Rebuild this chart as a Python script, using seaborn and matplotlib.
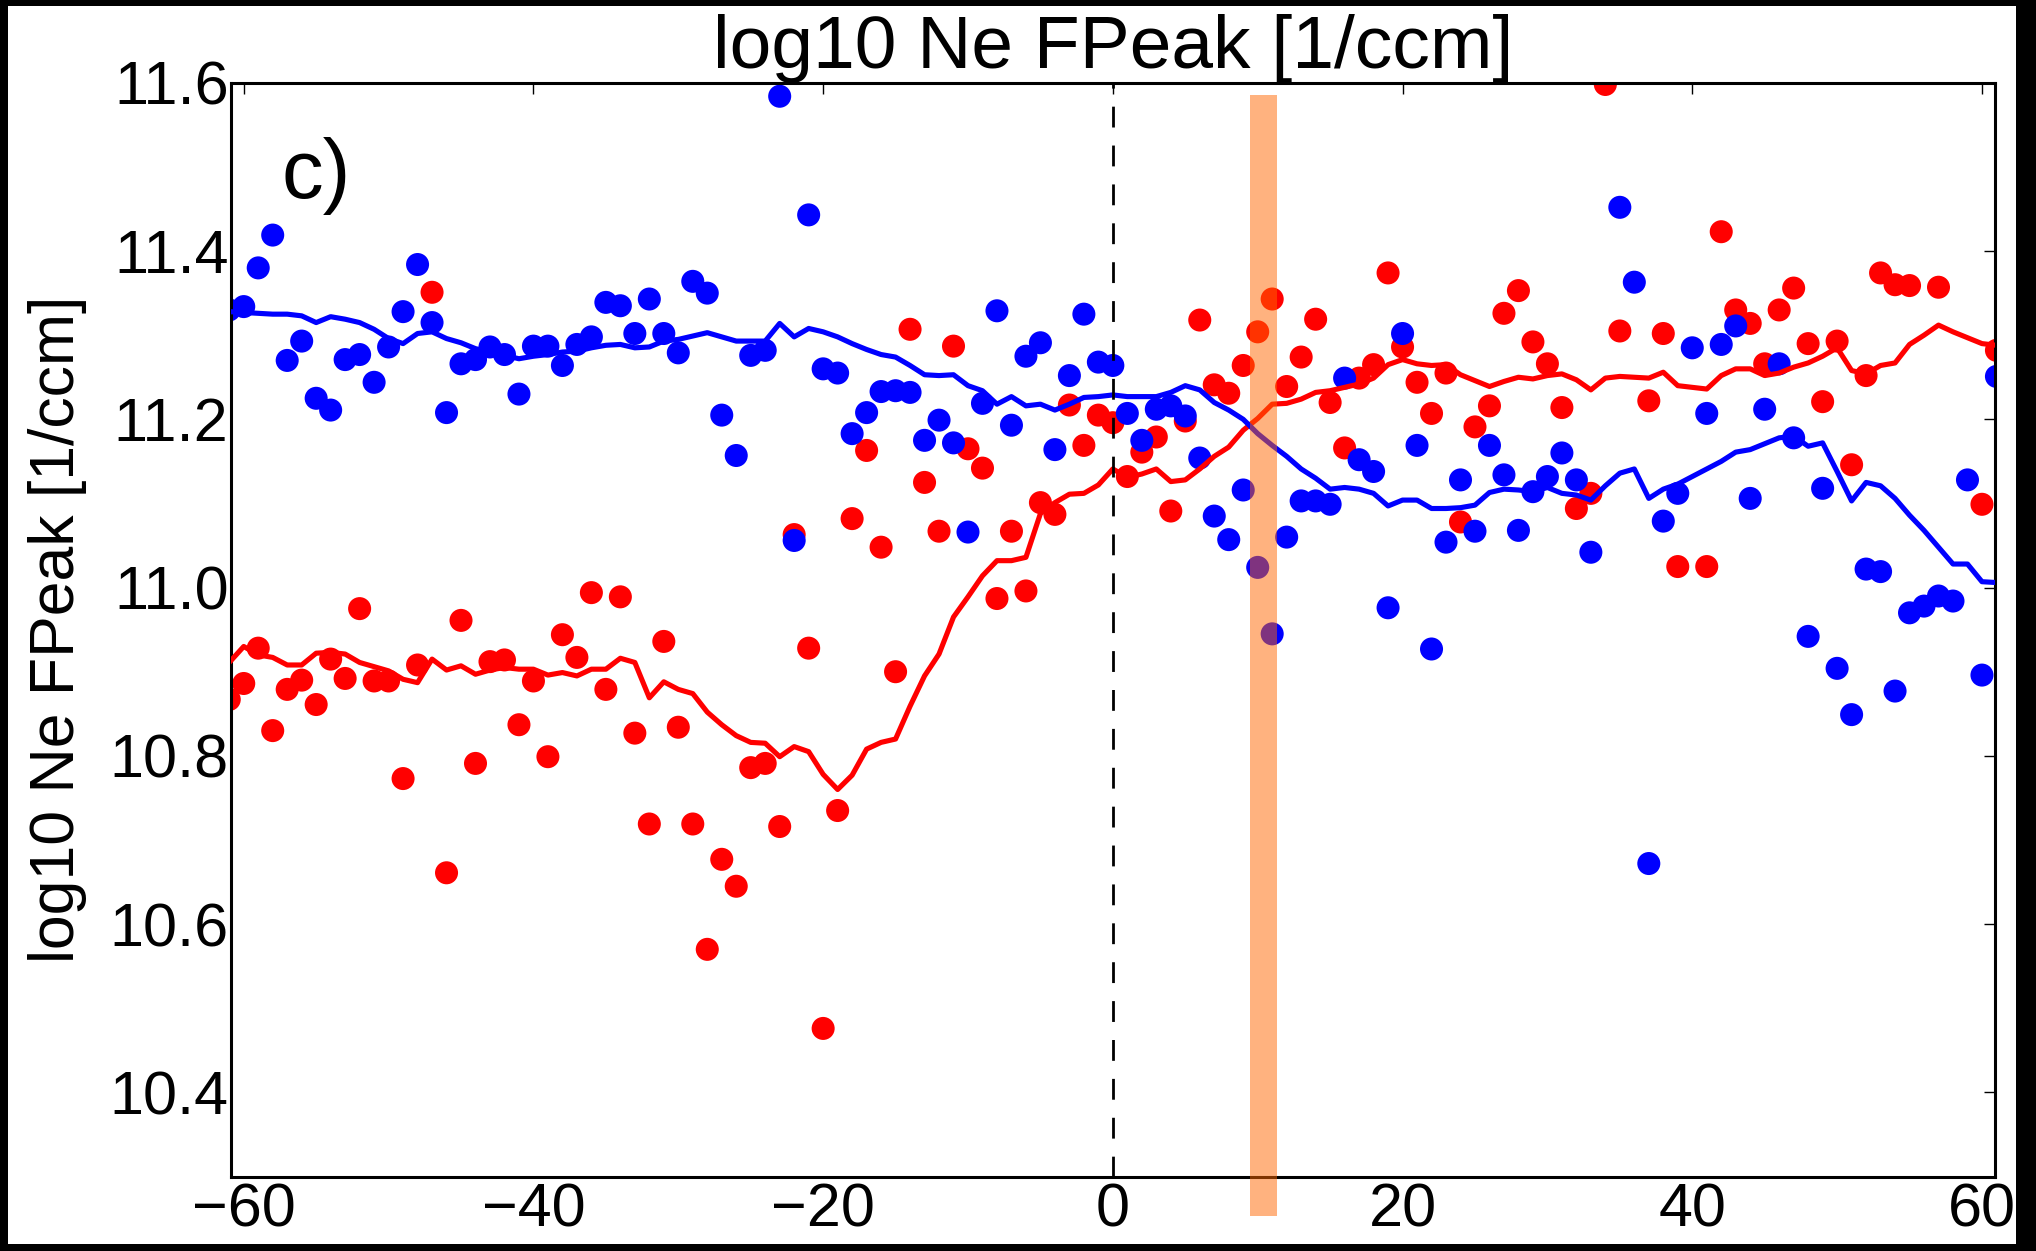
import numpy as np
import pandas as pd
import matplotlib
matplotlib.use("Agg")
import matplotlib.pyplot as plt
import seaborn as sns
from matplotlib.patches import Rectangle

# ---------------- data ----------------
days = list(range(-61, 62))

blue_points = [
    11.330, 11.334, 11.380, 11.419, 11.270, 11.293, 11.225, 11.211, 11.271, 11.277,   # -61..-52
    11.244, 11.286, 11.328, 11.384, 11.315, 11.208, 11.266, 11.271, 11.286, 11.277,   # -51..-42
    11.230, 11.287, 11.287, 11.264, 11.289, 11.298, 11.339, 11.335, 11.302, 11.343,   # -41..-32
    11.302, 11.279, 11.364, 11.350, 11.205, 11.157, 11.276, 11.282, 11.584, 11.056,   # -31..-22
    11.443, 11.260, 11.255, 11.183, 11.208, 11.233, 11.234, 11.232, 11.175, 11.199,   # -21..-12
    11.172, 11.066, 11.219, 11.329, 11.193, 11.275, 11.291, 11.164, 11.252, 11.325,   # -11..-2
    11.268, 11.264, 11.207, 11.175, 11.212, 11.216, 11.204, 11.154, 11.085, 11.057,   # -1..8
    11.116, 11.024, 10.945, 11.060, 11.103, 11.103, 11.099, 11.249, 11.152, 11.138,   # 9..18
    10.976, 11.302, 11.169, 10.927, 11.054, 11.128, 11.067, 11.169, 11.134, 11.068,   # 19..28
    11.114, 11.132, 11.160, 11.128, 11.042, np.nan, 11.452, 11.363, 10.672, 11.079,   # 29..38
    11.112, 11.285, 11.207, 11.289, 11.311, 11.106, 11.212, 11.266, 11.178, 10.942,   # 39..48
    11.118, 10.904, 10.849, 11.022, 11.019, 10.877, 10.970, 10.978, 10.990, 10.984,   # 49..58
    11.128, 10.896, 11.251,                                                           # 59..61
]

red_points = [
    10.867, 10.886, 10.928, 10.830, 10.879, 10.890, 10.861, 10.915, 10.892, 10.975,   # -61..-52
    10.889, 10.889, 10.773, 10.908, 11.351, 10.661, 10.961, 10.791, 10.912, 10.914,   # -51..-42
    10.837, 10.889, 10.799, 10.944, 10.917, 10.994, 10.879, 10.989, 10.827, 10.719,   # -41..-32
    10.936, 10.834, 10.719, 10.570, 10.677, 10.645, 10.786, 10.791, 10.716, 11.063,   # -31..-22
    10.928, 10.476, 10.735, 11.082, 11.163, 11.048, 10.900, 11.307, 11.125, 11.067,   # -21..-12
    11.287, 11.165, 11.142, 10.987, 11.067, 10.996, 11.101, 11.087, 11.217, 11.169,   # -11..-2
    11.205, 11.196, 11.132, 11.161, 11.179, 11.091, 11.198, 11.318, 11.241, 11.231,   # -1..8
    11.264, 11.304, 11.343, 11.239, 11.274, 11.319, 11.220, 11.166, 11.249, 11.265,   # 9..18
    11.374, 11.286, 11.244, 11.207, 11.255, 11.078, 11.191, 11.216, 11.326, 11.353,   # 19..28
    11.292, 11.266, 11.214, 11.094, 11.112, 11.598, 11.305, np.nan, 11.222, 11.302,   # 29..38
    11.025, np.nan, 11.025, 11.423, 11.330, 11.314, 11.266, 11.330, 11.356, 11.290,   # 39..48
    11.221, 11.293, 11.146, 11.252, 11.374, 11.360, 11.359, np.nan, 11.357, np.nan,   # 49..58
    np.nan, 11.099, 11.282,                                                           # 59..61
]

blue_mean = [
    11.328, 11.327, 11.326, 11.325, 11.325, 11.323, 11.315, 11.322, 11.319, 11.315,   # -61..-52
    11.307, 11.296, 11.290, 11.302, 11.304, 11.296, 11.291, 11.284, 11.280, 11.276,   # -51..-42
    11.272, 11.275, 11.277, 11.280, 11.281, 11.285, 11.288, 11.289, 11.285, 11.286,   # -41..-32
    11.293, 11.295, 11.299, 11.303, 11.298, 11.293, 11.293, 11.293, 11.314, 11.298,   # -31..-22
    11.308, 11.304, 11.298, 11.290, 11.283, 11.277, 11.274, 11.264, 11.253, 11.252,   # -21..-12
    11.253, 11.240, 11.234, 11.218, 11.227, 11.216, 11.218, 11.211, 11.218, 11.226,   # -11..-2
    11.227, 11.229, 11.227, 11.227, 11.227, 11.232, 11.240, 11.235, 11.220, 11.211,   # -1..8
    11.200, 11.183, 11.169, 11.156, 11.141, 11.130, 11.117, 11.119, 11.117, 11.112,   # 9..18
    11.097, 11.104, 11.104, 11.094, 11.094, 11.095, 11.098, 11.113, 11.117, 11.116,   # 19..28
    11.114, 11.119, 11.112, 11.110, 11.104, 11.121, 11.136, 11.141, 11.106, 11.117,   # 29..38
    11.123, 11.132, 11.141, 11.150, 11.161, 11.164, 11.171, 11.178, 11.180, 11.168,   # 39..48
    11.172, 11.138, 11.103, 11.125, 11.121, 11.106, 11.086, 11.068, 11.048, 11.028,   # 49..58
    11.028, 11.007, 11.006,                                                           # 59..61
]

red_mean = [
    10.911, 10.930, 10.920, 10.917, 10.908, 10.908, 10.922, 10.923, 10.921, 10.911,   # -61..-52
    10.906, 10.901, 10.891, 10.887, 10.915, 10.902, 10.907, 10.897, 10.902, 10.905,   # -51..-42
    10.903, 10.903, 10.896, 10.899, 10.895, 10.903, 10.903, 10.916, 10.911, 10.869,   # -41..-32
    10.888, 10.879, 10.874, 10.852, 10.837, 10.824, 10.816, 10.815, 10.799, 10.811,   # -31..-22
    10.805, 10.778, 10.760, 10.777, 10.808, 10.816, 10.820, 10.859, 10.895, 10.921,   # -21..-12
    10.965, 10.989, 11.014, 11.032, 11.032, 11.036, 11.088, 11.101, 11.111, 11.112,   # -11..-2
    11.122, 11.141, 11.131, 11.135, 11.141, 11.126, 11.128, 11.141, 11.156, 11.167,   # -1..8
    11.187, 11.201, 11.218, 11.219, 11.224, 11.232, 11.234, 11.238, 11.242, 11.249,   # 9..18
    11.265, 11.271, 11.266, 11.264, 11.265, 11.253, 11.246, 11.239, 11.245, 11.250,   # 19..28
    11.248, 11.252, 11.254, 11.247, 11.235, 11.249, 11.251, 11.250, 11.249, 11.256,   # 29..38
    11.240, 11.238, 11.236, 11.252, 11.260, 11.260, 11.252, 11.255, 11.262, 11.267,   # 39..48
    11.275, 11.285, 11.258, 11.254, 11.264, 11.267, 11.289, 11.300, 11.312, 11.304,   # 49..58
    11.297, 11.290, 11.288,                                                           # 59..61
]

xticks = [-60, -40, -20, 0, 20, 40, 60]
xtick_labels = ["\u221260", "\u221240", "\u221220", "0", "20", "40", "60"]
yticks = [10.4, 10.6, 10.8, 11.0, 11.2, 11.4, 11.6]
ytick_labels = ["10.4", "10.6", "10.8", "11.0", "11.2", "11.4", "11.6"]
title_text = "log10 Ne FPeak [1/ccm]"
ylabel_text = "log10 Ne FPeak [1/ccm]"
panel_label = "c)"
event_band = (9.45, 11.33)

# ---------------- tables for seaborn ----------------
pts = pd.concat([
    pd.DataFrame({"day": days, "value": red_points, "series": "red"}),
    pd.DataFrame({"day": days, "value": blue_points, "series": "blue"}),
], ignore_index=True).dropna()
means = pd.concat([
    pd.DataFrame({"day": days, "value": red_mean, "series": "red"}),
    pd.DataFrame({"day": days, "value": blue_mean, "series": "blue"}),
], ignore_index=True)
palette = {"red": "#FF0000", "blue": "#0000FF"}

# ---------------- style ----------------
sns.set_theme(style="white")
plt.rcParams["font.family"] = ["Liberation Sans", "DejaVu Sans"]
plt.rcParams["axes.unicode_minus"] = True

W, H = 2036, 1251
fig = plt.figure(figsize=(W / 100, H / 100), dpi=100, facecolor="black")
fig.add_artist(Rectangle((8 / W, 7 / H), (2016 - 8) / W, (1245 - 7) / H,
                         transform=fig.transFigure, facecolor="white",
                         edgecolor="none", zorder=-10))
ax = fig.add_axes([230.7 / W, (H - 1176.5) / H, (1995 - 230.7) / W, (1176.5 - 82.8) / H])

sns.scatterplot(data=pts, x="day", y="value", hue="series", palette=palette,
                s=275, linewidth=0, legend=False, ax=ax, zorder=2)
sns.lineplot(data=means, x="day", y="value", hue="series", palette=palette,
             estimator=None, linewidth=3.7, legend=False, ax=ax, zorder=3)

ax.axvline(0, color="black", lw=2.0, dashes=(7.5, 6.5), zorder=4)
band = ax.axvspan(event_band[0], event_band[1], ymin=-0.036, ymax=0.9885,
                  facecolor="#FF6600", alpha=0.5, lw=0, zorder=5)
band.set_clip_on(False)

ax.set_xlim(-60.9, 60.9)
ax.set_ylim(10.3, 11.6)
ax.set_xticks(xticks)
ax.set_xticklabels(xtick_labels)
ax.set_yticks(yticks)
ax.set_yticklabels(ytick_labels)
ax.tick_params(axis="both", which="major", direction="in", length=8, width=1.0,
               color="black", labelsize=44, labelcolor="black",
               top=True, right=True)
ax.tick_params(axis="x", pad=4)
ax.tick_params(axis="y", pad=1.5)
for s in ax.spines.values():
    s.set_linewidth(2.2)
    s.set_color("black")

ax.set_xlabel("")
ax.set_ylabel(ylabel_text, fontsize=45, color="black")
ax.yaxis.set_label_coords(-0.0816, 0.5)
ax.set_title(title_text, fontsize=54, color="black", pad=11)
ax.text(0.029, 0.895, panel_label, transform=ax.transAxes, fontsize=60,
        ha="left", va="baseline", color="black")

fig.savefig("out.png", dpi=100, facecolor="black")
